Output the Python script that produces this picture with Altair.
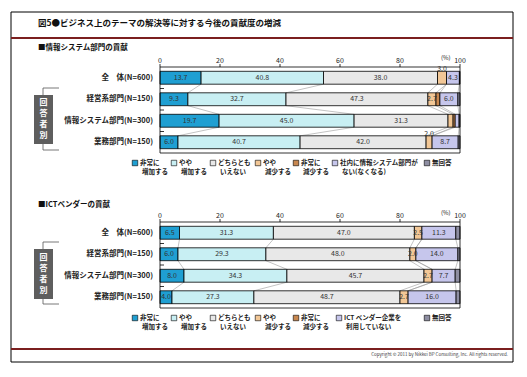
import altair as alt
import pandas as pd

FONT = "Noto Sans CJK JP"

title_text = "図5●ビジネス上のテーマの解決等に対する今後の貢献度の増減"
panel_titles = ["■情報システム部門の貢献", "■ICTベンダーの貢献"]
copyright_text = "Copyright © 2011  by Nikkei BP Consulting, Inc. All rights reserved."
group_label = ["回", "答", "者", "別"]

categories = ["全　体(N=600)", "経営系部門(N=150)", "情報システム部門(N=300)", "業務部門(N=150)"]

series_top = [["非常に", "増加する"], ["やや", "増加する"], ["どちらとも", "いえない"], ["やや", "減少する"],
              ["非常に", "減少する"], ["社内に情報システム部門が", "ない(なくなる)"], ["無回答"]]
series_bot = [["非常に", "増加する"], ["やや", "増加する"], ["どちらとも", "いえない"], ["やや", "減少する"],
              ["非常に", "減少する"], ["ICT ベンダー企業を", "利用していない"], ["無回答"]]

colors = ["#1f9fd2", "#c8eff3", "#e8e8e8", "#f2c796", "#c8874f", "#c6c6ec", "#8e8ea2"]

top_values = [
    [13.7, 40.8, 38.0, 3.0, 0.0, 4.3, 0.2],
    [9.3, 32.7, 47.3, 2.7, 1.3, 6.0, 0.7],
    [19.7, 45.0, 31.3, 1.7, 0.7, 1.3, 0.3],
    [6.0, 40.7, 42.0, 2.0, 0.0, 8.7, 0.6],
]
bot_values = [
    [6.5, 31.3, 47.0, 2.5, 0.0, 11.3, 1.4],
    [6.0, 29.3, 48.0, 2.0, 0.0, 14.0, 0.7],
    [8.0, 34.3, 45.7, 2.7, 0.0, 7.7, 1.6],
    [4.0, 27.3, 48.7, 2.7, 0.0, 16.0, 1.3],
]
# labels drawn above the bar instead of inside: (row, series index)
top_above = [(0, 3), (3, 3)]
bot_above = []

x_ticks = [0, 20, 40, 60, 80, 100]

# ---------------- layout (pixels) ----------------
CW, CH = 527, 377
X0, X1 = 160, 460
ROW = 21.5
PANEL_TOP = [67, 222]
OFFSET = (PANEL_TOP[1] - PANEL_TOP[0]) / ROW
HALF = 0.3
Y_LO = -0.5
Y_HI = 3.5 + OFFSET
xs = alt.Scale(domain=[0, 100], range=[X0, X1], nice=False, zero=False)
ys = alt.Scale(domain=[Y_LO, Y_HI], range=[PANEL_TOP[0], PANEL_TOP[0] + (Y_HI - Y_LO) * ROW],
               nice=False, zero=False)
V = alt.value

# ---------------- tables ----------------
recs, conns, frames, cats, bounds = [], [], [], [], []
for p, (values, above) in enumerate([(top_values, top_above), (bot_values, bot_above)]):
    base_y = p * OFFSET
    ends_all = []
    for i, row in enumerate(values):
        cum = 0.0
        ends = []
        for k, v in enumerate(row):
            start, end = cum, cum + v
            cum = end
            ends.append(end)
            recs.append(dict(panel=p, row=i, k=k, start=start, end=end, mid=(start + end) / 2, v=v,
                             label=f"{v:.1f}", ypos=base_y + i, y0=base_y + i - HALF, y1=base_y + i + HALF,
                             inside=bool(v >= 2.0 and (i, k) not in above),
                             above=bool((i, k) in above)))
        ends_all.append(ends)
        cats.append(dict(cat=categories[i], ypos=base_y + i))
    for i in range(len(values) - 1):
        for k in range(len(values[0]) - 1):
            cid = f"{p}-{i}-{k}"
            conns.append(dict(cid=cid, x=ends_all[i][k], y=base_y + i + HALF))
            conns.append(dict(cid=cid, x=ends_all[i + 1][k], y=base_y + i + 1 - HALF))
    frames.append(dict(x0=0, x1=100, y0=base_y - 0.5, y1=base_y + 3.5))
    for b in (0.5, 1.5, 2.5):
        bounds.append(dict(b=base_y + b))

df = pd.DataFrame(recs)
conn_df = pd.DataFrame(conns)
frame_df = pd.DataFrame(frames)
cat_df = pd.DataFrame(cats)
bound_df = pd.DataFrame(bounds)
tick_df = pd.DataFrame({"t": x_ticks})

layers = []

# connector lines between bars
layers.append(alt.Chart(conn_df).mark_line(color="#9a9a9a", strokeWidth=0.6).encode(
    x=alt.X("x:Q", scale=xs, axis=None), y=alt.Y("y:Q", scale=ys, axis=None), detail="cid:N"))

# bars
layers.append(alt.Chart(df).transform_filter("datum.v > 0").mark_rect(stroke="black", strokeWidth=0.8).encode(
    x=alt.X("start:Q", scale=xs, axis=None), x2="end:Q",
    y=alt.Y("y0:Q", scale=ys, axis=None), y2="y1:Q",
    color=alt.Color("k:N", scale=alt.Scale(domain=list(range(7)), range=colors), legend=None)))

# panel frames
layers.append(alt.Chart(frame_df).mark_rect(fillOpacity=0, stroke="black", strokeWidth=0.8).encode(
    x=alt.X("x0:Q", scale=xs), x2="x1:Q", y=alt.Y("y0:Q", scale=ys), y2="y1:Q"))

# value labels
layers.append(alt.Chart(df).transform_filter("datum.inside").mark_text(
    fontSize=7, font=FONT, color="#333").encode(
    x=alt.X("mid:Q", scale=xs), y=alt.Y("ypos:Q", scale=ys), text="label:N"))
layers.append(alt.Chart(df).transform_filter("datum.above").mark_text(
    fontSize=7, font=FONT, color="#333", baseline="bottom", dy=1).encode(
    x=alt.X("mid:Q", scale=xs), y=alt.Y("y0:Q", scale=ys), text="label:N"))

# category labels
layers.append(alt.Chart(cat_df).mark_text(align="right", fontSize=7.5, fontWeight="bold", font=FONT,
                                          color="#222").encode(
    x=V(X0 - 7), y=alt.Y("ypos:Q", scale=ys), text="cat:N"))

# inner ticks between categories
layers.append(alt.Chart(bound_df).mark_rule(color="black", strokeWidth=0.8).encode(
    x=V(X0), x2=V(X0 + 4), y=alt.Y("b:Q", scale=ys)))

# x-axis ticks and labels (top of each panel)
for p, pt in enumerate(PANEL_TOP):
    layers.append(alt.Chart(tick_df).mark_rule(color="black", strokeWidth=0.8).encode(
        x=alt.X("t:Q", scale=xs), y=V(pt - 3), y2=V(pt)))
    layers.append(alt.Chart(tick_df).mark_text(fontSize=7, font=FONT, color="#222", baseline="middle").encode(
        x=alt.X("t:Q", scale=xs), y=V(pt - 6.5), text="t:Q"))

dummy = alt.Chart(pd.DataFrame({"a": [0]}))


def txt(s, x, y, size=7, weight="normal", align="left", color="#222", baseline="middle"):
    return dummy.mark_text(align=align, baseline=baseline, fontSize=size, fontWeight=weight, font=FONT,
                           color=color).encode(x=V(x), y=V(y), text=V(s))


def rule(x, y, x2=None, y2=None, color="black", w=0.8):
    enc = dict(x=V(x), y=V(y))
    if x2 is not None:
        enc["x2"] = V(x2)
    if y2 is not None:
        enc["y2"] = V(y2)
    return dummy.mark_rule(color=color, strokeWidth=w).encode(**enc)


# outer frame, title, red lines, copyright
layers.append(dummy.mark_rect(fillOpacity=0, stroke="black", strokeWidth=1).encode(
    x=V(11), x2=V(513), y=V(12), y2=V(362)))
layers.append(txt(title_text, 38, 23, size=8.5, weight="bold", color="#111"))
layers.append(rule(11, 38, x2=513, color="#7b1f1f", w=2))
layers.append(rule(11, 349, x2=513, color="#7b1f1f", w=2))
layers.append(txt(copyright_text, 508, 355, size=4.5, align="right", color="#444"))

# panel titles and (%)
layers.append(txt(panel_titles[0], 38, 48, size=7.5, weight="bold", color="#111"))
layers.append(txt(panel_titles[1], 38, 205, size=7.5, weight="bold", color="#111"))
layers.append(txt("(%)", 441, 58, size=6))
layers.append(txt("(%)", 441, 213, size=6))

# 回答者別 brackets
for (by0, by1, bx0, bx1) in [(88, 150, 95, 144), (242, 304, 249, 299)]:
    layers.append(rule(43, by0, y2=by1, color="#555"))
    layers.append(rule(43, by0, x2=59, color="#555"))
    layers.append(rule(43, by1, x2=59, color="#555"))
    layers.append(dummy.mark_rect(color="#5e5e5e").encode(x=V(34), x2=V(53), y=V(bx0), y2=V(bx1)))
    cy = (bx0 + bx1) / 2
    for j, ch in enumerate(group_label):
        layers.append(txt(ch, 43.5, cy + (j - 1.5) * 11, size=8, weight="bold", align="center", color="white"))

# legends (drawn manually)
legend_x = [[132, 171, 210, 255, 293, 332, 424], [132, 171, 210, 255, 293, 336, 424]]
legend_y = [163, 318]
for p, ser in enumerate([series_top, series_bot]):
    ly = legend_y[p]
    for k, lines in enumerate(ser):
        lx = legend_x[p][k]
        layers.append(dummy.mark_square(size=30, color=colors[k], opacity=1, stroke="black",
                                        strokeWidth=0.6).encode(x=V(lx + 3), y=V(ly)))
        for j, line in enumerate(lines):
            layers.append(txt(line, lx + 8 + (2 if j == 1 else 0), ly + j * 9, size=6.5, weight="bold"))

chart = alt.layer(*layers).properties(
    width=CW, height=CH, padding=0,
    autosize=alt.AutoSizeParams(type="none"),
    background="white",
).configure_view(stroke=None)

chart.save("out.html", embed_options={"renderer": "svg", "actions": False})
